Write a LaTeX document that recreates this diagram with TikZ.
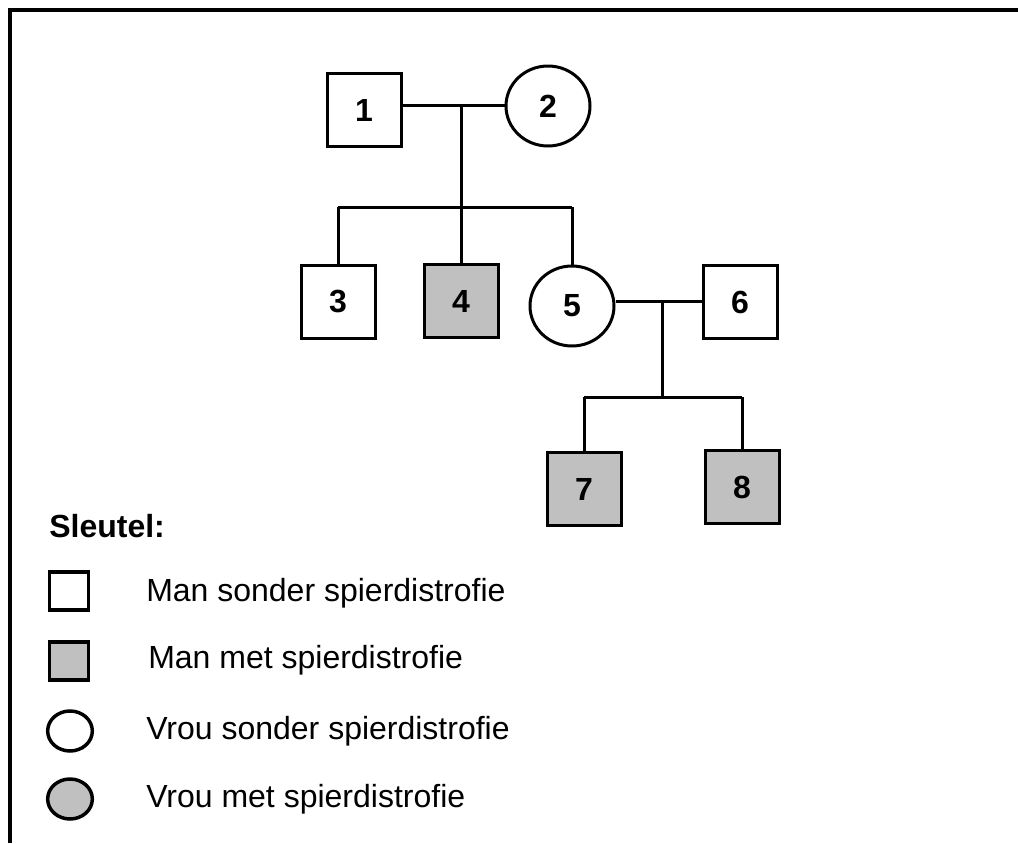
\documentclass[tikz,border=0pt]{standalone}
\usepackage{fontspec}
\setmainfont{Liberation Sans}
\usetikzlibrary{shapes.geometric}
\begin{document}
\begin{tikzpicture}[x=0.75pt,y=-0.75pt,
  every node/.style={font=\fontsize{24pt}{28pt}\selectfont},
  ln/.style={line width=2.25pt},
  male/.style={draw,line width=2.25pt,rectangle,minimum width=55.5pt,minimum height=54.75pt,inner sep=0pt,font=\fontsize{24pt}{28pt}\selectfont\bfseries},
  female/.style={draw,line width=2.25pt,ellipse,minimum width=63pt,minimum height=60pt,inner sep=0pt,font=\fontsize{24pt}{28pt}\selectfont\bfseries},
  aff/.style={fill=affgray},
  keysq/.style={draw,line width=2.6pt,rectangle,minimum width=29pt,minimum height=28.5pt,inner sep=0pt},
  keyci/.style={draw,line width=2.6pt,ellipse,minimum width=33.5pt,minimum height=30pt,inner sep=0pt},
  keytext/.style={anchor=base west,inner sep=0pt}
]
\definecolor{affgray}{RGB}{192,192,192}
\useasboundingbox (0,0) rectangle (1018,843);
% frame
\draw[line width=3pt] (10,843) -- (10,10) -- (1018,10);

% generation I
\node[male] (n1) at (364,110) {1};
\node[female] (n2) at (548,106) {2};
% generation II
\node[male] (n3) at (338,302) {3};
\node[male,aff] (n4) at (461,301) {4};
\node[female] (n5) at (572,306) {5};
\node[male] (n6) at (740,302) {6};
% generation III
\node[male,aff] (n7) at (584,489) {7};
\node[male,aff] (n8) at (742,487) {8};

\coordinate (m12) at (461,105);
\coordinate (s12) at (461,207);
\coordinate (m56) at (662,301);
\coordinate (s56) at (662,397);

\draw[ln] (n1.east |- m12) -- (n2.west |- m12);
\draw[ln] (m12) -- (n4.north);
\draw[ln] (n3.north |- s12) -- (n5.north |- s12);
\draw[ln] (n3.north |- s12) -- (n3.north);
\draw[ln] (n5.north |- s12) -- (n5.north);

\draw[ln] (n5.east |- m56) -- (n6.west |- m56);
\draw[ln] (m56) -- (s56);
\draw[ln] (n7.north |- s56) -- (n8.north |- s56);
\draw[ln] (n7.north |- s56) -- (n7.north);
\draw[ln] (n8.north |- s56) -- (n8.north);

% key
\node[keytext,font=\fontsize{24pt}{28pt}\selectfont\bfseries] (key) at (49,537) {Sleutel:};
\node[keysq] (k1) at (69,591) {};
\node[keytext] (t1) at (146,601) {Man sonder spierdistrofie};
\node[keysq,aff] (k2) at (69,661) {};
\node[keytext] (t2) at (148,668) {Man met spierdistrofie};
\node[keyci] (k3) at (70,731) {};
\node[keytext] (t3) at (146,739) {Vrou sonder spierdistrofie};
\node[keyci,aff] (k4) at (70,799) {};
\node[keytext] (t4) at (146,807) {Vrou met spierdistrofie};
\end{tikzpicture}
\end{document}
